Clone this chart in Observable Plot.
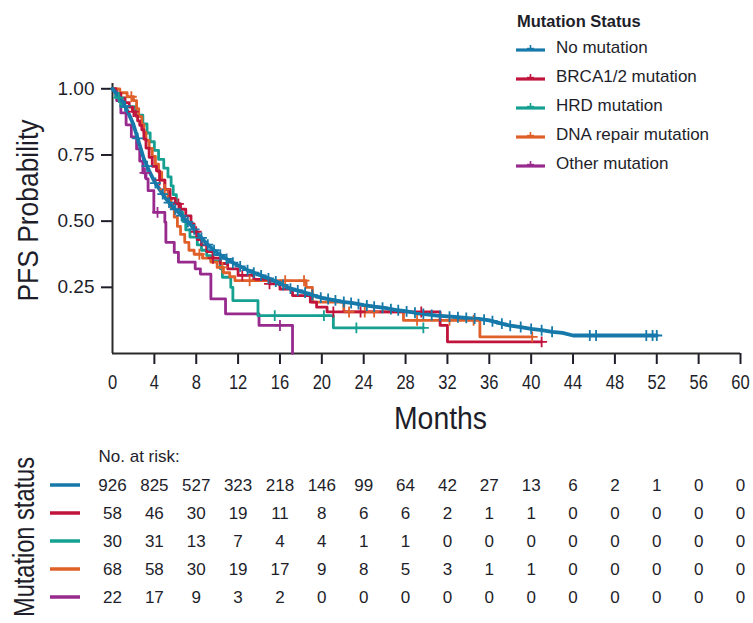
<!DOCTYPE html>
<html>
<head>
<meta charset="utf-8">
<script src="https://cdn.jsdelivr.net/npm/d3@7"></script>
<script src="https://cdn.jsdelivr.net/npm/@observablehq/plot@0.6"></script>
<style>
  body { margin: 0; background: #fff; }
  #chart { position: relative; width: 753px; height: 623px; overflow: hidden;
           font-family: "Liberation Sans", Arial, sans-serif; color: #1e1e2a; }
  #chart > svg { display: block; }
  .legend { position: absolute; left: 515px; top: 8px; }
  .legend-title { font-weight: bold; font-size: 16.5px; height: 26px; line-height: 26px; margin-left: 2px; }
  .legend-row { display: flex; align-items: center; height: 28.8px; }
  .legend-row svg { margin-right: 10px; }
  .legend-row span { font-size: 17px; }
</style>
</head>
<body>
<div id="chart"></div>
<script>
// Axis ticks
const monthTicks = [0, 4, 8, 12, 16, 20, 24, 28, 32, 36, 40, 44, 48, 52, 56, 60];
const probTicks = [0.25, 0.5, 0.75, 1.0];

// Groups
const groupNames = ["No mutation", "BRCA1/2 mutation", "HRD mutation", "DNA repair mutation", "Other mutation"];
const groupColors = ["#1679a9", "#c0143c", "#15a092", "#e0602a", "#982a8e"];

// Kaplan–Meier PFS estimates: [month, probability]
const noMutationCurve = [
  [0, 1], [0.5, 0.975], [1, 0.95], [1.5, 0.91], [2, 0.865], [2.5, 0.8], [3, 0.735], [3.5, 0.69],
  [4, 0.65], [4.5, 0.62], [5, 0.59], [5.5, 0.565], [6, 0.545], [6.5, 0.525], [7, 0.505], [7.5, 0.485],
  [8, 0.458], [8.5, 0.437], [9, 0.415], [9.5, 0.397], [10, 0.38], [10.5, 0.367], [11, 0.355],
  [11.5, 0.343], [12, 0.333], [13, 0.313], [14, 0.298], [15, 0.282], [16, 0.265], [17, 0.245],
  [18, 0.235], [19, 0.222], [20, 0.21], [21, 0.203], [22, 0.195], [23, 0.19], [24, 0.183],
  [25, 0.177], [26, 0.172], [27, 0.165], [28, 0.16], [29, 0.153], [30, 0.148], [31, 0.143],
  [32, 0.14], [33, 0.137], [34, 0.134], [35, 0.131], [36, 0.125], [37, 0.115], [38, 0.105],
  [39, 0.1], [40, 0.093], [41, 0.088], [42, 0.082], [43, 0.078], [44, 0.068], [52, 0.068]
];
const brcaCurve = [
  [0, 1], [0.3, 0.983], [0.8, 0.966], [1.2, 0.948], [1.6, 0.931], [1.9, 0.914], [2.2, 0.897],
  [2.4, 0.879], [2.6, 0.862], [2.8, 0.845], [3, 0.81], [3.2, 0.776], [3.5, 0.741], [3.8, 0.707],
  [4.2, 0.69], [4.5, 0.655], [5, 0.62], [5.5, 0.586], [6, 0.565], [6.5, 0.545], [7, 0.52],
  [7.5, 0.49], [7.8, 0.46], [8.1, 0.43], [8.5, 0.41], [9, 0.385], [9.6, 0.36], [10.3, 0.34],
  [11, 0.32], [12, 0.295], [13.5, 0.28], [15, 0.263], [16, 0.243], [17.2, 0.219], [18.9, 0.194],
  [19.5, 0.175], [20.5, 0.157], [31.3, 0.106], [32, 0.044], [41, 0.044]
];
const hrdCurve = [
  [0, 1], [0.3, 0.967], [0.8, 0.933], [2.2, 0.9], [2.9, 0.867], [3.3, 0.833], [3.6, 0.8],
  [4, 0.767], [4.4, 0.733], [4.9, 0.7], [5.3, 0.667], [5.6, 0.633], [5.8, 0.6], [6.1, 0.567],
  [6.4, 0.533], [6.7, 0.5], [7, 0.467], [7.4, 0.44], [8.1, 0.41], [8.5, 0.39], [9, 0.37],
  [9.4, 0.35], [10.3, 0.32], [10.5, 0.288], [11.3, 0.25], [11.5, 0.2], [13.9, 0.143],
  [21.1, 0.097], [29.7, 0.097]
];
const dnaRepairCurve = [
  [0, 1], [0.7, 0.985], [1.4, 0.97], [2, 0.955], [2.3, 0.925], [2.5, 0.895], [2.8, 0.865],
  [3, 0.835], [3.2, 0.805], [3.5, 0.775], [3.8, 0.745], [4.1, 0.715], [4.4, 0.685], [4.7, 0.655],
  [5, 0.62], [5.3, 0.585], [5.6, 0.55], [5.9, 0.515], [6.2, 0.48], [6.5, 0.45], [6.9, 0.42],
  [7.3, 0.39], [7.8, 0.375], [8.6, 0.36], [9.4, 0.345], [10, 0.325], [10.6, 0.305], [11.2, 0.29],
  [11.7, 0.275], [18.5, 0.25], [19.1, 0.194], [22.1, 0.157], [27.8, 0.125], [35.1, 0.063],
  [40.1, 0.063]
];
const otherCurve = [
  [0, 1], [0.4, 0.955], [0.8, 0.909], [1.3, 0.864], [1.8, 0.818], [2.3, 0.773], [2.6, 0.727],
  [2.9, 0.682], [3.2, 0.66], [3.4, 0.615], [3.95, 0.533], [5, 0.496], [5.1, 0.42], [5.9, 0.382],
  [6.3, 0.345], [7.9, 0.32], [8.4, 0.3], [9.4, 0.206], [10.8, 0.15], [14, 0.106], [17.2, 0]
];

// Censoring times (months)
const noMutationCensored = [1.2, 2.4, 3.3, 4.1, 4.8, 5.4, 6.0, 6.6, 7.2, 7.8, 8.5, 9.1, 9.7, 10.3,
  10.9, 11.5, 12.2, 12.9, 13.5, 14.2, 14.9, 15.6, 16.3, 17.0, 17.7, 18.4, 19.1, 19.9, 20.6, 21.3,
  22.1, 22.8, 23.5, 24.3, 25.0, 25.8, 26.6, 27.3, 28.1, 28.9, 29.7, 30.5, 31.3, 32.2, 33.0, 33.8,
  34.6, 35.5, 36.3, 37.2, 38.0, 39.0, 40.0, 41.0, 42.0, 45.6, 46.2, 51.0, 51.6, 52.0];
const brcaCensored = [2.0, 4.5, 6.3, 8.0, 9.6, 12.4, 15.0, 21.1, 23.7, 29.5, 41.0];
const hrdCensored = [0.6, 15.5, 20.2, 23.3, 29.7];
const dnaRepairCensored = [1.8, 5.0, 8.3, 10.5, 13.1, 16.5, 18.3, 22.6, 24.1, 25.0, 29.1, 32.2, 34.5, 40.1];
const otherCensored = [3.1, 4.3, 16.0];

// Number at risk at each month tick
const riskNoMutation = [926, 825, 527, 323, 218, 146, 99, 64, 42, 27, 13, 6, 2, 1, 0, 0];
const riskBrca = [58, 46, 30, 19, 11, 8, 6, 6, 2, 1, 1, 0, 0, 0, 0, 0];
const riskHrd = [30, 31, 13, 7, 4, 4, 1, 1, 0, 0, 0, 0, 0, 0, 0, 0];
const riskDnaRepair = [68, 58, 30, 19, 17, 9, 8, 5, 3, 1, 1, 0, 0, 0, 0, 0];
const riskOther = [22, 17, 9, 3, 2, 0, 0, 0, 0, 0, 0, 0, 0, 0, 0, 0];

const groups = [
  {name: groupNames[0], color: groupColors[0], curve: noMutationCurve, censored: noMutationCensored, risk: riskNoMutation, smooth: true},
  {name: groupNames[1], color: groupColors[1], curve: brcaCurve, censored: brcaCensored, risk: riskBrca},
  {name: groupNames[2], color: groupColors[2], curve: hrdCurve, censored: hrdCensored, risk: riskHrd},
  {name: groupNames[3], color: groupColors[3], curve: dnaRepairCurve, censored: dnaRepairCensored, risk: riskDnaRepair},
  {name: groupNames[4], color: groupColors[4], curve: otherCurve, censored: otherCensored, risk: riskOther}
];

// Survival value at time t on a group's curve
function survivalAt(g, t) {
  const c = g.curve;
  const i = d3.bisector(d => d[0]).right(c, t) - 1;
  if (i < 0) return 1;
  if (!g.smooth || i >= c.length - 1) return c[i][1];
  const [t0, s0] = c[i], [t1, s1] = c[i + 1];
  return s0 + (s1 - s0) * (t - t0) / (t1 - t0);
}

const ink = "#1e1e2a";
const baseFont = "'Liberation Sans', Arial, sans-serif";

// Squeeze texts horizontally to a target length (condensed look)
function condense(selection, lengthOf) {
  selection.each(function () {
    const len = lengthOf(this.textContent);
    if (this.textContent && len) {
      this.setAttribute("textLength", len);
      this.setAttribute("lengthAdjust", "spacingAndGlyphs");
    }
  });
}
const textsOf = (svg, content) =>
  d3.select(svg).selectAll("text").filter(function () { return this.textContent === content; });

const curveRows = groups.flatMap(g => g.curve.map(([t, s]) => ({group: g.name, t, s})));
const censorRows = groups.flatMap(g => g.censored.map(t => ({group: g.name, t, s: survivalAt(g, t)})));
const drawOrder = [4, 2, 3, 1, 0].map(i => groups[i]);

const main = Plot.plot({
  width: 753,
  height: 440,
  marginLeft: 112,
  marginRight: 13,
  marginTop: 83,
  marginBottom: 87,
  style: {fontFamily: baseFont, color: ink, background: "white", overflow: "visible"},
  x: {domain: [0, 60]},
  y: {domain: [0, 1.02]},
  marks: [
    Plot.axisY(probTicks, {tickSize: 11, tickPadding: 7, tickFormat: d3.format(".2f"), strokeWidth: 2, label: null}),
    Plot.axisX(monthTicks, {tickSize: 0, tickPadding: 21, label: null}),
    Plot.axisX(monthTicks.filter(d => d > 0), {tickSize: 11, strokeWidth: 2, tickFormat: () => "", label: null}),
    Plot.ruleY([0], {strokeWidth: 2, stroke: "#2a2a2a"}),
    Plot.ruleX([0], {strokeWidth: 2, stroke: "#2a2a2a"}),
    ...drawOrder.map(g => Plot.line(curveRows.filter(d => d.group === g.name), {
      x: "t", y: "s", stroke: g.color,
      strokeWidth: g.smooth ? 3.8 : 2.8,
      curve: g.smooth ? "linear" : "step-after"
    })),
    ...drawOrder.map(g => Plot.dot(censorRows.filter(d => d.group === g.name), {
      x: "t", y: "s", stroke: g.color, symbol: "plus", r: 3.6, strokeWidth: 1.8
    })),
    Plot.text(["PFS Probability"], {frameAnchor: "left", textAnchor: "middle", lineAnchor: "middle", dx: -84, dy: -8, rotate: -90, fontSize: 29, fill: ink}),
    Plot.text(["Months"], {frameAnchor: "bottom", textAnchor: "middle", lineAnchor: "middle", dx: 14, dy: 66, fontSize: 31, fill: ink})
  ]
});

d3.select(main).selectAll('g[aria-label="y-axis tick label"]').style("font-size", "19px");
d3.select(main).selectAll('g[aria-label="x-axis tick label"]').style("font-size", "20px");
condense(d3.select(main).selectAll('g[aria-label="x-axis tick label"] text'), s => s.length * 9.2);
condense(textsOf(main, "PFS Probability"), () => 182);
condense(textsOf(main, "Months"), () => 93);

const riskRows = groups.flatMap(g => g.risk.map((n, i) => ({group: g.name, month: monthTicks[i], n})));

const table = Plot.plot({
  width: 753,
  height: 183,
  marginLeft: 112,
  marginRight: 13,
  marginTop: 44,
  marginBottom: 26,
  style: {fontFamily: baseFont, color: ink, background: "white", overflow: "visible"},
  x: {domain: [0, 60], axis: null},
  y: {type: "point", domain: groupNames, padding: 0, axis: null},
  marks: [
    Plot.text(riskRows, {x: "month", y: "group", text: "n", fontSize: 17, fill: ink}),
    Plot.text(["No. at risk:"], {frameAnchor: "top-left", lineAnchor: "middle", dx: -14, dy: -28, textAnchor: "start", fontSize: 17, fill: ink}),
    Plot.text(["Mutation status"], {frameAnchor: "left", textAnchor: "middle", lineAnchor: "middle", dx: -88, dy: -4, rotate: -90, fontSize: 29, fill: ink})
  ]
});
condense(textsOf(table, "Mutation status"), () => 160);

// Colour keys beside each risk row
const yRow = table.scale("y");
d3.select(table).append("g")
  .selectAll("line")
  .data(groups)
  .join("line")
  .attr("x1", 50).attr("x2", 80)
  .attr("y1", d => yRow.apply(d.name)).attr("y2", d => yRow.apply(d.name))
  .attr("stroke", d => d.color)
  .attr("stroke-width", 3.5);

const chart = document.getElementById("chart");
chart.append(main, table);

// Legend
const legend = d3.select(chart).append("div").attr("class", "legend");
legend.append("div").attr("class", "legend-title").text("Mutation Status");
groups.forEach(g => {
  const row = legend.append("div").attr("class", "legend-row");
  const sw = row.append("svg").attr("width", 31).attr("height", 14);
  sw.append("line").attr("x1", 1).attr("x2", 30).attr("y1", 9).attr("y2", 9)
    .attr("stroke", g.color).attr("stroke-width", 3.2);
  sw.append("line").attr("x1", 15.5).attr("x2", 15.5).attr("y1", 4).attr("y2", 9)
    .attr("stroke", g.color).attr("stroke-width", 1.6);
  sw.append("line").attr("x1", 12).attr("x2", 19).attr("y1", 7.5).attr("y2", 7.5)
    .attr("stroke", g.color).attr("stroke-width", 1.4);
  row.append("span").text(g.name);
});
</script>
</body>
</html>
